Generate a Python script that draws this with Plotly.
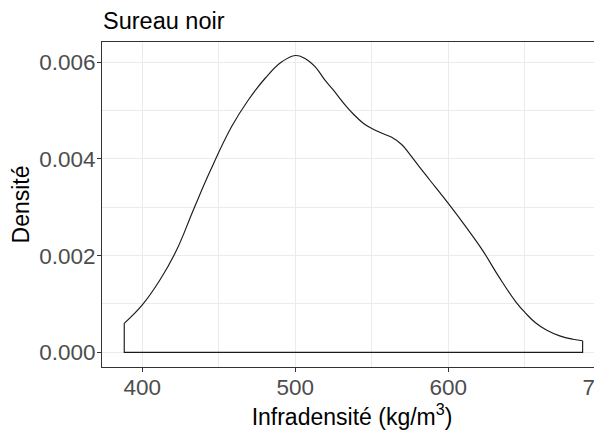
import plotly.graph_objects as go

# Density curve of infradensity (kg/m^3) for "Sureau noir"
density_x = [388.2, 400.0, 411.6, 422.5, 433.3, 444.2, 458.4, 469.3, 480.3, 491.2,
             500.0, 506.3, 512.9, 519.4, 524.8, 532.5, 537.9, 544.4, 550.0, 557.5,
             563.0, 569.5, 575.0, 581.5, 588.0, 600.0, 611.4, 622.2, 633.1, 644.0,
             650.5, 657.0, 664.1, 672.8, 681.5, 687.8]
density_y = [0.00060, 0.00098, 0.00150, 0.00212, 0.00294, 0.00374, 0.00467, 0.00522,
             0.00567, 0.00601, 0.00614, 0.00608, 0.00591, 0.00563, 0.00543, 0.00512,
             0.00493, 0.00474, 0.00463, 0.00452, 0.00445, 0.00430, 0.00409, 0.00382,
             0.00356, 0.00308, 0.00260, 0.00212, 0.00156, 0.00105, 0.00081, 0.00061,
             0.00046, 0.00034, 0.00027, 0.00024]

x_ticks = [400, 500, 600, 700]
y_ticks = [0.000, 0.002, 0.004, 0.006]
y_tick_labels = ["0.000", "0.002", "0.004", "0.006"]

title_text = "Sureau noir"
x_title = "Infradensité (kg/m<sup>3</sup>)"
y_title = "Densité"

FONT = "Liberation Sans, Arial, sans-serif"
line_col = "#1a1a1a"

fig = go.Figure()
# smooth density curve
fig.add_trace(go.Scatter(x=density_x, y=density_y, mode="lines",
                         line=dict(color=line_col, width=1.15, shape="spline", smoothing=1.2),
                         showlegend=False, hoverinfo="skip"))
# closing outline of the density polygon (sides + baseline)
fig.add_trace(go.Scatter(x=[density_x[-1], density_x[-1], density_x[0], density_x[0]],
                         y=[density_y[-1], 0, 0, density_y[0]], mode="lines",
                         line=dict(color=line_col, width=1.15),
                         showlegend=False, hoverinfo="skip"))

W, H = 594, 422
grid = "#EBEBEB"
fig.update_layout(
    width=W, height=H,
    margin=dict(l=94, r=0, t=34, b=63),
    paper_bgcolor="white", plot_bgcolor="white",
    font=dict(family=FONT, color="black"),
    title=dict(text=title_text, x=95 / W, xref="container", xanchor="left",
               y=1 - 13 / H, yref="container", yanchor="middle", pad=dict(l=0, r=0, t=0, b=0),
               font=dict(size=23.5, color="black", family=FONT)),
)
fig.update_xaxes(
    range=[373.66, 700.46], automargin=False,
    tickvals=x_ticks, ticktext=[str(v) for v in x_ticks],
    showgrid=True, gridcolor=grid, gridwidth=1.1,
    minor=dict(dtick=50, tick0=400, showgrid=True, gridcolor=grid, gridwidth=0.6, ticks=""),
    showline=True, linecolor="#333333", linewidth=1.1, mirror=True,
    ticks="outside", ticklen=4, tickcolor="#333333", tickwidth=1.1,
    tickfont=dict(size=22.5, color="#4D4D4D", family=FONT),
    ticklabeloverflow="allow", ticklabelstandoff=-4,
    zeroline=False,
    title=dict(text=x_title, font=dict(size=23, color="black", family=FONT), standoff=10),
)
fig.update_yaxes(
    range=[-0.000304, 0.00642], automargin=False,
    tickvals=y_ticks, ticktext=y_tick_labels,
    showgrid=True, gridcolor=grid, gridwidth=1.1,
    minor=dict(tickvals=[0.001, 0.003, 0.005], showgrid=True, gridcolor=grid, gridwidth=0.6, ticks=""),
    showline=True, linecolor="#333333", linewidth=1.1, mirror=False,
    ticks="outside", ticklen=4, tickcolor="#333333", tickwidth=1.1,
    tickfont=dict(size=22.5, color="#4D4D4D", family=FONT),
    ticklabelstandoff=-3,
    zeroline=False,
    title=dict(text=y_title, font=dict(size=23, color="black", family=FONT), standoff=14),
)

fig.write_html("out.html")
